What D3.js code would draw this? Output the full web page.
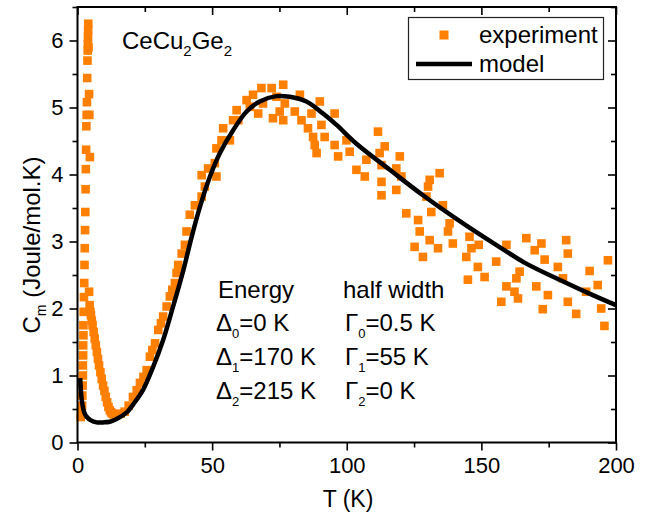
<!DOCTYPE html>
<html>
<head>
<meta charset="utf-8">
<script src="https://cdn.jsdelivr.net/npm/d3@7"></script>
<style>
  body { margin: 0; background: #fff; }
  svg text { font-family: "Liberation Sans", Arial, sans-serif; fill: #000; }
</style>
</head>
<body>
<svg id="chart" width="646" height="513"></svg>
<script>
// experiment: low temperature peak (rising side, then falling side)
var lowT = [1.2, 1.5, 1.7, 1.8, 1.9, 2.0, 2.0, 2.1, 2.1, 2.2, 2.2, 2.3, 2.4, 2.5, 2.6, 2.7, 2.8, 2.9, 3.0, 3.1, 3.2, 3.3, 3.4, 3.5, 3.6, 3.7, 3.8, 3.85, 3.9, 3.95, 4.0, 4.1, 4.3, 4.4, 4.6,
            4.3, 4.5, 4.8, 5.0, 5.3, 5.6, 6.0, 6.4, 6.8, 7.2, 7.6, 8.0, 8.5, 9.0, 9.5, 10.0, 10.5, 11.0, 11.5, 12.0, 12.5, 13.0, 13.5, 14.0, 15.0, 16.0];
var lowC = [0.38, 0.45, 0.55, 0.7, 0.85, 1.0, 1.15, 1.3, 1.45, 1.6, 1.75, 1.95, 2.17, 2.38, 2.65, 2.9, 3.17, 3.44, 3.78, 4.08, 4.37, 4.72, 4.89, 5.08, 5.44, 5.7, 5.85, 5.95, 6.05, 6.15, 6.25, 5.9, 5.2, 4.89, 4.26,
            2.25, 2.05, 1.95, 1.9, 1.82, 1.75, 1.65, 1.55, 1.45, 1.35, 1.25, 1.15, 1.05, 0.95, 0.85, 0.77, 0.68, 0.6, 0.53, 0.48, 0.45, 0.43, 0.42, 0.42, 0.42, 0.43];

// experiment: broad hump
var expT = [17.5, 19, 20.6, 22, 23.2, 24.5, 25.7, 26.9, 27.8, 28.8, 30, 31, 31.8, 33.1, 34.3, 35.2, 36.2, 36.8, 37.4, 38.7, 39.9, 40.5, 41.7, 43.6,
            46.1, 47.3, 46.1, 48.5, 51.6, 51, 51.6, 53.5, 56.6, 54.1, 57.8, 59.1, 59.7, 62.8, 64, 65.2, 67.1, 68.3, 68.9, 72.1, 72.6, 73.9, 75.1,
            76.4, 76.4, 77, 80.7, 82.6, 83.2, 85.6, 86.9, 87.5, 88.1, 88.8, 90, 90.6, 91.8, 95.5, 95.5, 96.8, 99.9, 101.1, 103.6, 106.7, 107.3,
            111.6, 114.1, 112.2, 112.9, 112.9, 112.9, 118.4, 119.7, 120.3, 118.4, 130.8, 134.5, 130.2, 129.6, 122.1, 126.5, 127.1, 125.2, 128.3,
            130.8, 133.9, 131.4, 135.7, 138.2, 137.6, 139.4, 145.6, 146.3, 144.4, 148.7, 145, 149, 151.2, 155.5, 159.3, 157.4, 159.3, 163, 164.2,
            162.3, 163.6, 166.7, 169.8, 172.3, 173.5, 170.4, 174.7, 172.8, 178.4, 180.3, 181.5, 182.1, 182.1, 185.2, 188.9, 190.2, 193.2, 194.5,
            195.7, 197];
var expC = [0.46, 0.55, 0.68, 0.78, 0.89, 0.98, 1.08, 1.28, 1.38, 1.48, 1.68, 1.78, 1.88, 2.03, 2.18, 2.28, 2.38, 2.53, 2.65, 2.82, 2.95, 3.15, 3.40, 3.54,
            3.67, 3.82, 3.99, 4.09, 3.97, 4.17, 4.39, 4.51, 4.51, 4.69, 4.81, 4.96, 4.81, 5.11, 5.01, 5.19, 4.91, 5.29, 5.06, 5.29, 4.84, 5.16, 4.94,
            5.34, 4.81, 5.06, 4.94, 5.19, 4.81, 4.69, 4.91, 4.56, 4.44, 4.32, 5.09, 4.74, 4.56, 4.91, 4.44, 4.27, 4.51, 4.34, 4.07, 3.97, 4.22,
            4.64, 4.42, 4.32, 4.14, 3.89, 3.69, 4.09, 4.27, 3.97, 3.77, 3.92, 4.02, 3.82, 3.67, 3.42, 3.32, 3.15, 2.92, 2.77,
            3.02, 2.90, 3.44, 3.54, 3.27, 3.15, 2.97, 3.07, 2.90, 2.77, 2.62, 2.43, 2.95, 2.47, 2.70, 2.95, 2.10, 2.33, 2.45, 2.55,
            2.25, 2.15, 3.05, 2.87, 2.97, 2.73, 2.33, 2.20, 1.99, 2.62, 2.45, 3.02, 2.82, 2.10, 1.92, 2.25, 2.56, 2.35, 2.00,
            1.74, 2.72];

// model curve
var modelT = [1, 1.6, 2.5, 3.4, 5, 7.1, 9.5, 12, 14.5, 18.3, 20.7, 24.4, 28.1, 31.8, 35.5, 39.3, 42.4, 45.5, 49.2, 52.9, 57.8, 62.8, 67.7,
              73.9, 78.8, 85, 91.2, 96.2, 103.6, 116, 128.3, 143.2, 154.3, 166.7, 179, 191.4, 200];
var modelC = [0.96, 0.63, 0.45, 0.385, 0.33, 0.30, 0.30, 0.31, 0.35, 0.45, 0.57, 0.79, 1.13, 1.53, 2.03, 2.57, 3.07, 3.52, 3.97, 4.32, 4.66, 4.94, 5.09,
              5.17, 5.16, 5.09, 4.91, 4.74, 4.46, 4.07, 3.69, 3.27, 2.98, 2.67, 2.43, 2.20, 2.05];

var xMajor = [0, 50, 100, 150, 200];
var xMinor = [25, 75, 125, 175];
var yMajor = [0, 1, 2, 3, 4, 5, 6];
var yMinor = [0.5, 1.5, 2.5, 3.5, 4.5, 5.5, 6.5];

var orange = "#ff7f00";

var svg = d3.select("#chart");

var x = d3.scaleLinear().domain([0, 200]).range([77.5, 616]);
var y = d3.scaleLinear().domain([0, 6.5]).range([442.5, 7]);

// experiment squares
var points = lowT.map(function (t, i) { return [t, lowC[i]]; })
    .concat(expT.map(function (t, i) { return [t, expC[i]]; }));
var s = 8.6;
svg.append("g").selectAll("rect")
    .data(points)
    .enter().append("rect")
    .attr("x", function (d) { return x(d[0]) - s / 2; })
    .attr("y", function (d) { return y(d[1]) - s / 2; })
    .attr("width", s)
    .attr("height", s)
    .attr("fill", orange);

// model line
var line = d3.line()
    .x(function (d) { return x(d[0]); })
    .y(function (d) { return y(d[1]); })
    .curve(d3.curveCatmullRom);
svg.append("path")
    .datum(modelT.map(function (t, i) { return [t, modelC[i]]; }))
    .attr("d", line)
    .attr("fill", "none")
    .attr("stroke", "#000")
    .attr("stroke-width", 4.5)
    .attr("stroke-linejoin", "round");

// axes: outward ticks bottom/left, inward mirror ticks top/right
function styleAxis(g) {
    g.select(".domain").remove();
    g.selectAll("line").attr("stroke", "#000").attr("stroke-width", 1.6);
    g.selectAll("text").style("font-size", "22px").style("font-family", "Liberation Sans, Arial, sans-serif");
}
svg.append("g").attr("transform", "translate(0,442.5)")
    .call(d3.axisBottom(x).tickValues(xMajor).tickSize(8).tickPadding(7).tickFormat(d3.format("d")))
    .call(styleAxis);
svg.append("g").attr("transform", "translate(0,442.5)")
    .call(d3.axisBottom(x).tickValues(xMinor).tickSize(5).tickFormat(""))
    .call(styleAxis);
svg.append("g").attr("transform", "translate(77.5,0)")
    .call(d3.axisLeft(y).tickValues(yMajor).tickSize(8).tickPadding(6).tickFormat(d3.format("d")))
    .call(styleAxis);
svg.append("g").attr("transform", "translate(77.5,0)")
    .call(d3.axisLeft(y).tickValues(yMinor).tickSize(5).tickFormat(""))
    .call(styleAxis);
svg.append("g").attr("transform", "translate(0,7)")
    .call(d3.axisBottom(x).tickValues(xMajor).tickSize(8).tickFormat(""))
    .call(styleAxis);
svg.append("g").attr("transform", "translate(0,7)")
    .call(d3.axisBottom(x).tickValues(xMinor).tickSize(5).tickFormat(""))
    .call(styleAxis);
svg.append("g").attr("transform", "translate(616,0)")
    .call(d3.axisLeft(y).tickValues(yMajor).tickSize(8).tickFormat(""))
    .call(styleAxis);
svg.append("g").attr("transform", "translate(616,0)")
    .call(d3.axisLeft(y).tickValues(yMinor).tickSize(5).tickFormat(""))
    .call(styleAxis);

svg.append("rect")
    .attr("x", 77.5).attr("y", 7)
    .attr("width", 616 - 77.5).attr("height", 442.5 - 7)
    .attr("fill", "none").attr("stroke", "#000").attr("stroke-width", 2);

// axis titles
svg.append("text")
    .attr("x", 348).attr("y", 507)
    .attr("text-anchor", "middle")
    .style("font-size", "23px")
    .text("T (K)");

var yl = svg.append("text")
    .attr("transform", "translate(40,245) rotate(-90)")
    .attr("text-anchor", "middle")
    .style("font-size", "24px");
yl.append("tspan").text("C");
yl.append("tspan").attr("dy", 6).style("font-size", "14px").text("m");
yl.append("tspan").attr("dy", -6).text(" (Joule/mol.K)");

// compound name
var nm = svg.append("text").attr("x", 122).attr("y", 49).style("font-size", "24px");
nm.append("tspan").text("CeCu");
nm.append("tspan").attr("dy", 7).style("font-size", "15px").text("2");
nm.append("tspan").attr("dy", -7).text("Ge");
nm.append("tspan").attr("dy", 7).style("font-size", "15px").text("2");

// level scheme annotation
var energyRows = [["Δ", "0", "=0 K"], ["Δ", "1", "=170 K"], ["Δ", "2", "=215 K"]];
var widthRows = [["Γ", "0", "=0.5 K"], ["Γ", "1", "=55 K"], ["Γ", "2", "=0 K"]];
svg.append("text").attr("x", 218).attr("y", 298).style("font-size", "24px").text("Energy");
svg.append("text").attr("x", 343).attr("y", 298).style("font-size", "24px").text("half width");
function subRow(row, xp, yp) {
    var t = svg.append("text").attr("x", xp).attr("y", yp).style("font-size", "24px");
    t.append("tspan").text(row[0]);
    t.append("tspan").attr("dy", 7).style("font-size", "13px").text(row[1]);
    t.append("tspan").attr("dy", -7).text(row[2]);
}
energyRows.forEach(function (r, i) { subRow(r, 216, 331 + i * 34); });
widthRows.forEach(function (r, i) { subRow(r, 345, 331 + i * 34); });

// legend
svg.append("rect")
    .attr("x", 408.5).attr("y", 17.5).attr("width", 195).attr("height", 62)
    .attr("fill", "#fff").attr("stroke", "#222").attr("stroke-width", 1.2);
svg.append("rect")
    .attr("x", 444 - 4.5).attr("y", 35 - 4.5).attr("width", 9).attr("height", 9)
    .attr("fill", orange);
svg.append("line")
    .attr("x1", 416).attr("x2", 472).attr("y1", 64).attr("y2", 64)
    .attr("stroke", "#000").attr("stroke-width", 4.5);
svg.append("text").attr("x", 479).attr("y", 43).style("font-size", "24px").text("experiment");
svg.append("text").attr("x", 479).attr("y", 72).style("font-size", "24px").text("model");
</script>
</body>
</html>
